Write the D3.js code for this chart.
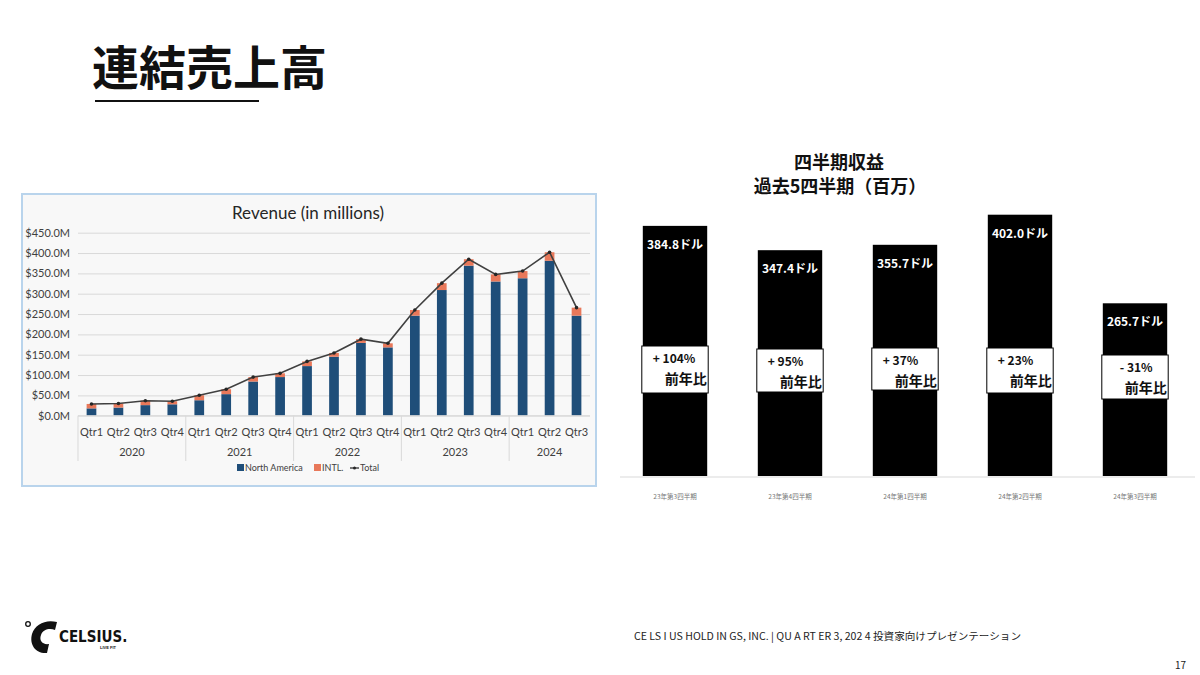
<!DOCTYPE html>
<html>
<head>
<meta charset="utf-8">
<script src="https://cdn.jsdelivr.net/npm/d3@7"></script>
<style>
  body { margin: 0; background: #fff; }
  svg { display: block; }
</style>
</head>
<body>
<svg id="page" width="1200" height="675"></svg>
<script>
// left chart data (millions)
const quarters = ['Qtr1','Qtr2','Qtr3','Qtr4','Qtr1','Qtr2','Qtr3','Qtr4','Qtr1','Qtr2','Qtr3','Qtr4','Qtr1','Qtr2','Qtr3','Qtr4','Qtr1','Qtr2','Qtr3'];
const years = ['2020','2020','2020','2020','2021','2021','2021','2021','2022','2022','2022','2022','2023','2023','2023','2023','2024','2024','2024'];
const northAmerica = [18,20,26,28,38,53,84,95,122,145,179,168,246,309,369,330,338,381,246];
const intl = [10.9,9.9,10.9,7.5,12.2,12,10.9,9.2,11.5,9.3,9.2,10,13.8,16.9,15.8,17.4,17.7,21,19.7];
const totals = [28.9,29.9,36.9,35.5,50.2,65.0,94.9,104.2,133.5,154.3,188.2,178.0,259.8,325.9,384.8,347.4,355.7,402.0,265.7];
const yTicksLeft = [0,50,100,150,200,250,300,350,400,450];

// right chart data
const lastQuarters = ['23年第3四半期','23年第4四半期','24年第1四半期','24年第2四半期','24年第3四半期'];
const lastRevenue = [384.8,347.4,355.7,402.0,265.7];
const yoyLabels = ['+ 104%','+ 95%','+ 37%','+ 23%','- 31%'];

const jp = '"Noto Sans CJK JP", "Noto Sans", sans-serif';
const cal = 'Lato, "Open Sans", sans-serif';

const svg = d3.select('#page');

// ---- heading
svg.append('text').attr('x', 92).attr('y', 85)
  .style('font-family', jp).style('font-weight', 700).style('font-size', '47px')
  .attr('fill', '#111').text('連結売上高');
svg.append('line').attr('x1', 95).attr('x2', 259).attr('y1', 101).attr('y2', 101)
  .attr('stroke', '#111').attr('stroke-width', 2);

// ---- left chart (Excel style)
const box = { x: 22, y: 194, w: 574, h: 292 };
svg.append('rect').attr('x', box.x).attr('y', box.y).attr('width', box.w).attr('height', box.h)
  .attr('fill', '#f8f8f8').attr('stroke', '#b9d4ec').attr('stroke-width', 2);

svg.append('text').attr('x', 308).attr('y', 219).attr('text-anchor', 'middle')
  .style('font-family', cal).style('font-size', '17px').attr('fill', '#262626')
  .text('Revenue (in millions)');

const left = svg.append('g');
const lx = d3.scaleBand().domain(d3.range(quarters.length)).range([78, 590]).paddingInner(0.64).paddingOuter(0.32);
const ly = d3.scaleLinear().domain([0, 450]).range([415.7, 232.7]);

left.append('g').attr('transform', 'translate(78,0)')
  .call(d3.axisLeft(ly).tickValues(yTicksLeft).tickSize(-512).tickFormat(d => '$' + d3.format('.1f')(d) + 'M'))
  .call(g => g.select('.domain').remove())
  .call(g => g.selectAll('line').attr('stroke', '#d9d9d9').attr('stroke-width', 1))
  .call(g => g.selectAll('text').attr('x', -8).attr('fill', '#404040')
    .style('font-family', cal).style('font-size', '11px'));

left.selectAll('.na').data(northAmerica).join('rect')
  .attr('x', (d, i) => lx(i)).attr('width', lx.bandwidth())
  .attr('y', d => ly(d)).attr('height', d => ly(0) - ly(d))
  .attr('fill', '#1f4e79');
left.selectAll('.intl').data(intl).join('rect')
  .attr('x', (d, i) => lx(i)).attr('width', lx.bandwidth())
  .attr('y', (d, i) => ly(northAmerica[i] + d)).attr('height', d => ly(0) - ly(d))
  .attr('fill', '#e8785a');

const line = d3.line().x((d, i) => lx(i) + lx.bandwidth() / 2).y(d => ly(d));
left.append('path').datum(totals).attr('d', line)
  .attr('fill', 'none').attr('stroke', '#404040').attr('stroke-width', 1.6);
left.selectAll('.dot').data(totals).join('circle')
  .attr('cx', (d, i) => lx(i) + lx.bandwidth() / 2).attr('cy', d => ly(d)).attr('r', 1.8)
  .attr('fill', '#262626');

// category axis
left.append('line').attr('x1', 78).attr('x2', 590).attr('y1', ly(0)).attr('y2', ly(0))
  .attr('stroke', '#d9d9d9');
const step = lx.step();
const x0 = 78;
left.selectAll('.qtr').data(quarters).join('text')
  .attr('x', (d, i) => lx(i) + lx.bandwidth() / 2).attr('y', 436).attr('text-anchor', 'middle')
  .style('font-family', cal).style('font-size', '11px').attr('fill', '#404040').text(d => d);
const yearGroups = d3.groups(years.map((y, i) => ({ y, i })), d => d.y);
yearGroups.forEach(([yr, items]) => {
  const a = x0 + items[0].i * step;
  const b = x0 + (items[items.length - 1].i + 1) * step;
  left.append('text').attr('x', (a + b) / 2).attr('y', 456).attr('text-anchor', 'middle')
    .style('font-family', cal).style('font-size', '11px').attr('fill', '#404040').text(yr);
  left.append('line').attr('x1', a).attr('x2', a).attr('y1', ly(0)).attr('y2', 461)
    .attr('stroke', '#d9d9d9');
});

// legend
const lg = left.append('g').attr('transform', 'translate(0,468)');
lg.append('rect').attr('x', 237).attr('y', -4).attr('width', 7).attr('height', 7).attr('fill', '#1f4e79');
lg.append('text').attr('x', 245).attr('y', 3).text('North America');
lg.append('rect').attr('x', 314).attr('y', -4).attr('width', 7).attr('height', 7).attr('fill', '#e8785a');
lg.append('text').attr('x', 322).attr('y', 3).text('INTL.');
lg.append('line').attr('x1', 350).attr('x2', 359).attr('y1', 0).attr('y2', 0).attr('stroke', '#404040').attr('stroke-width', 1.4);
lg.append('circle').attr('cx', 354.5).attr('cy', 0).attr('r', 1.5).attr('fill', '#262626');
lg.append('text').attr('x', 360).attr('y', 3).text('Total');
lg.selectAll('text').style('font-family', cal).style('font-size', '9px').attr('fill', '#404040');

// ---- right chart
svg.append('text').attr('x', 839).attr('y', 169).attr('text-anchor', 'middle')
  .style('font-family', jp).style('font-weight', 700).style('font-size', '18px')
  .attr('fill', '#111').text('四半期収益');
svg.append('text').attr('x', 840).attr('y', 193).attr('text-anchor', 'middle')
  .style('font-family', jp).style('font-weight', 700).style('font-size', '18px')
  .attr('fill', '#111').text('過去5四半期（百万）');

const right = svg.append('g');
const rx = d3.scaleBand().domain(lastQuarters).range([617.5, 1192.5]).paddingInner(0.44).paddingOuter(0.22);
const ry = d3.scaleLinear().domain([0, 450]).range([476, 183.5]);

right.append('line').attr('x1', 620).attr('x2', 1195).attr('y1', 477).attr('y2', 477)
  .attr('stroke', '#d9d9d9');

right.selectAll('.bar').data(lastRevenue).join('rect')
  .attr('x', (d, i) => rx(lastQuarters[i])).attr('width', rx.bandwidth())
  .attr('y', d => ry(d)).attr('height', d => ry(0) - ry(d))
  .attr('fill', '#000');

right.selectAll('.val').data(lastRevenue).join('text')
  .attr('x', (d, i) => rx(lastQuarters[i]) + rx.bandwidth() / 2).attr('y', d => ry(d) + 23)
  .attr('text-anchor', 'middle')
  .style('font-family', jp).style('font-weight', 700).style('font-size', '12px')
  .attr('fill', '#fff').text(d => d3.format('.1f')(d) + 'ドル');

// yoy boxes
const boxTop = [346, 349, 348, 348, 355];
const boxH = [47, 43, 42, 45, 44];
lastQuarters.forEach((q, i) => {
  const bx = rx(q) - 1;
  const g = right.append('g').attr('transform', `translate(${bx},${boxTop[i]})`);
  g.append('rect').attr('width', rx.bandwidth() + 2).attr('height', boxH[i])
    .attr('fill', '#fff').attr('stroke', '#000').attr('stroke-width', 1);
  g.append('text').attr('x', i === 4 ? 18 : 11).attr('y', 17)
    .style('font-family', jp).style('font-weight', 700).style('font-size', '12px')
    .attr('fill', '#111').text(yoyLabels[i]);
  g.append('text').attr('x', rx.bandwidth() + 0.5).attr('y', 38).attr('text-anchor', 'end')
    .style('font-family', jp).style('font-weight', 700).style('font-size', '14px')
    .attr('fill', '#111').text('前年比');
});

right.selectAll('.cat').data(lastQuarters).join('text')
  .attr('x', d => rx(d) + rx.bandwidth() / 2).attr('y', 499).attr('text-anchor', 'middle')
  .style('font-family', jp).style('font-size', '6.5px').attr('fill', '#777').text(d => d);

// ---- footer
const logo = svg.append('g');
logo.append('circle').attr('cx', 28).attr('cy', 624).attr('r', 2.3)
  .attr('fill', 'none').attr('stroke', '#111').attr('stroke-width', 1.3);
logo.append('path')
  .attr('d', 'M57,622 C46,619 35,624 32,634 C29,645 36,654 47,653 L49,644 C42,645 39,640 41,635 C43,629 50,628 55,630 Z')
  .attr('fill', '#111');
logo.append('text').attr('x', 59).attr('y', 642)
  .style('font-family', '"DejaVu Sans Condensed", "Liberation Sans Narrow", sans-serif')
  .style('font-weight', 700).style('font-size', '15px').attr('fill', '#111').text('CELSIUS.');
logo.append('text').attr('x', 100).attr('y', 649)
  .style('font-family', '"Liberation Sans", sans-serif').style('font-weight', 700)
  .style('font-size', '4px').attr('fill', '#111').text('LIVE FIT');

svg.append('text').attr('x', 634).attr('y', 640)
  .style('font-family', jp).style('font-size', '10px').attr('fill', '#222')
  .attr('textLength', 387).attr('lengthAdjust', 'spacingAndGlyphs')
  .text('CE LS I US HOLD IN GS, INC. | QU A RT ER 3, 202 4 投資家向けプレゼンテーション');
svg.append('text').attr('x', 1186).attr('y', 669).attr('text-anchor', 'end')
  .style('font-family', jp).style('font-size', '10px').attr('fill', '#222').text('17');
</script>
</body>
</html>
